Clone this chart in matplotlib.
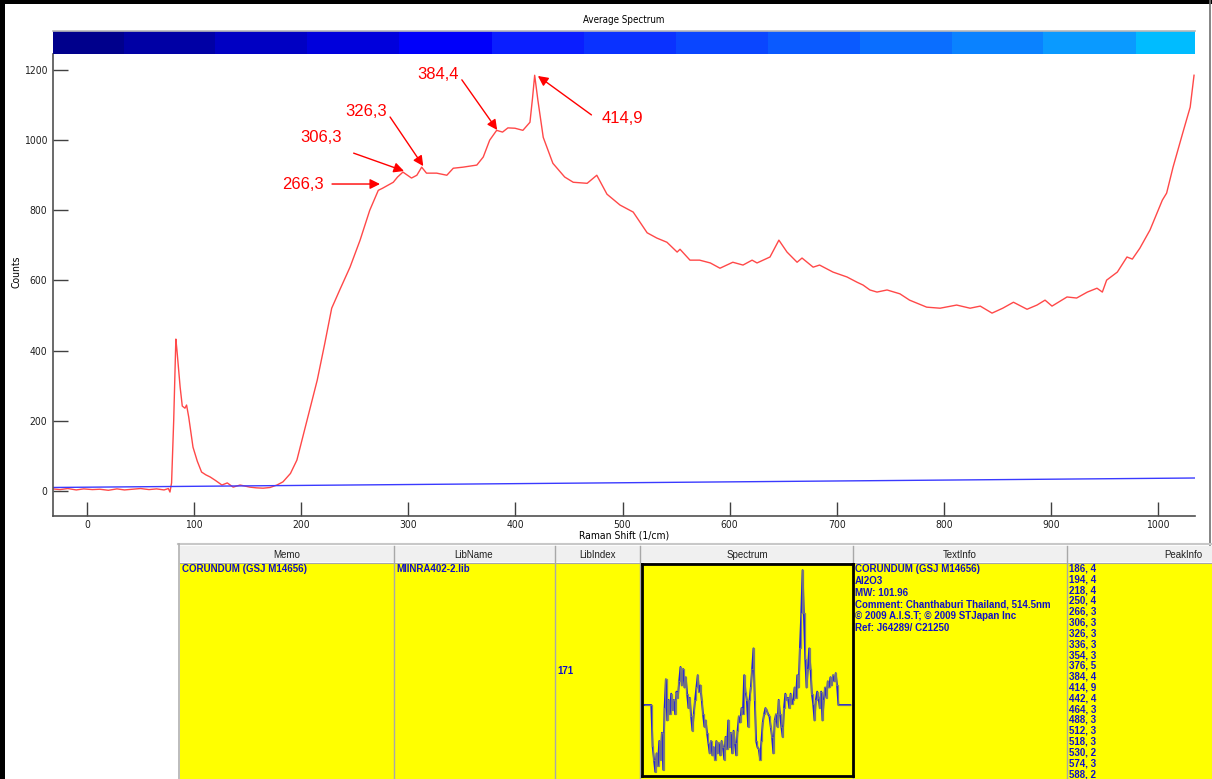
import matplotlib
matplotlib.use("Agg")
import matplotlib.pyplot as plt
from matplotlib.patches import Rectangle

# ---------------- data ----------------
spec_x = [-32, -25, -18, -10, -3, 5, 12, 20, 28, 35, 43, 50, 58, 65, 72, 76, 77.5, 79, 81, 83,
          84, 87, 89, 91.5, 93, 95, 99, 103, 107, 111, 115, 120, 126, 131, 136.5, 143, 152, 158,
          164.5, 171, 177.4, 183, 190, 196, 205.5, 215, 222, 228.5, 236, 245.6, 255, 264, 272,
          276, 286, 290, 295, 303, 308, 312.5, 317, 326.5, 336, 342, 351, 364, 370, 376, 382.5,
          388, 393, 399.6, 407, 413.6, 416, 418, 421, 426, 435, 446, 454, 467, 476, 485.5, 497.7,
          510, 523, 532, 541.5, 551, 553.7, 563, 572, 582, 591, 603, 612.5, 621, 625.6, 637.7,
          646, 653.6, 663, 667.6, 678, 684, 696.5, 709.6, 719, 724.6, 731, 737.6, 747, 759, 768,
          784, 796.5, 812, 824.5, 834, 845, 855, 865, 877.7, 887, 894.5, 901, 915, 924, 934, 943,
          948, 952, 962, 971, 976, 983, 992.5, 1004, 1008, 1014, 1023, 1030, 1033.6]
spec_y = [6, 4, 7, 3, 6, 4, 5, 2, 6, 3, 5, 7, 4, 6, 3, 7, -3, 23, 202, 433,
          402, 296, 242, 236, 245, 211, 125, 85, 54, 46, 40, 30, 17, 23, 11, 17, 11, 9,
          8, 10, 17, 26, 50, 88, 202, 316, 420, 521, 573, 638, 715, 800, 857,
          863, 880, 895, 909, 892, 900, 923, 906, 906, 900, 920, 923, 929, 952, 1000, 1028,
          1023, 1035, 1034, 1028, 1051, 1120, 1185, 1114, 1008, 934, 895, 880, 877, 900, 846, 815,
          795, 736, 721, 709, 681, 689, 658, 658, 650, 635, 652, 644, 658, 650, 667,
          715, 681, 652, 664, 638, 644, 624, 610, 595, 587, 573, 567, 573, 562, 544,
          524, 521, 530, 521, 527, 507, 521, 538, 518, 530, 544, 527, 553, 550, 567, 578,
          567, 601, 624, 667, 661, 692, 744, 829, 849, 923, 1020, 1094, 1185]

base_x = [-32, 1034]
base_y = [10, 37]

x_ticks = [0, 100, 200, 300, 400, 500, 600, 700, 800, 900, 1000]
y_ticks = [0, 200, 400, 600, 800, 1000, 1200]

peak_labels = ["266,3", "306,3", "326,3", "384,4", "414,9"]
peak_tip_x = [273.6, 296, 314, 383, 421]
peak_tip_y = [875, 912, 926, 1029, 1183]
label_x = [201.7, 219, 261, 328, 499.5]
label_y = [875, 1009, 1081, 1186, 1063]
tail_x = [228.8, 249, 283, 350, 471]
tail_y = [875, 963, 1066, 1172, 1072]

cbar_colors = ["#00008c", "#0000a5", "#0000c3", "#0000dc", "#0000fa", "#0a1eff", "#0a32ff",
               "#0a46ff", "#0a5aff", "#0a6eff", "#0a82ff", "#0a9aff", "#00bcff"]

table_headers = ["Memo", "LibName", "LibIndex", "Spectrum", "TextInfo", "PeakInfo"]
memo_text = "CORUNDUM (GSJ M14656)"
libname_text = "MIINRA402-2.lib"
libindex_text = "171"
textinfo_lines = ["CORUNDUM (GSJ M14656)", "Al2O3", "MW: 101.96",
                  "Comment: Chanthaburi Thailand, 514.5nm",
                  "\u00a9 2009 A.I.S.T; \u00a9 2009 STJapan Inc", "Ref: J64289/ C21250"]
peakinfo_lines = ["186, 4", "194, 4", "218, 4", "250, 4", "266, 3", "306, 3", "326, 3", "336, 3",
                  "354, 3", "376, 5", "384, 4", "414, 9", "442, 4", "464, 3", "488, 3", "512, 3",
                  "518, 3", "530, 2", "574, 3", "588, 2"]

inset_vals = ([0.335] * 6 +
              [0.134, 0.07, 0.01, 0.10, 0.04, 0.16, 0.07, 0.20, 0.02, 0.32, 0.46, 0.26, 0.36, 0.29,
               0.39, 0.31, 0.36, 0.29, 0.40, 0.37, 0.45, 0.52, 0.43, 0.51, 0.42, 0.47, 0.39, 0.32,
               0.37, 0.28, 0.21, 0.29, 0.36, 0.42, 0.48, 0.40, 0.43, 0.36, 0.29, 0.23, 0.26, 0.20,
               0.15, 0.10, 0.16, 0.09, 0.13, 0.07, 0.16, 0.10, 0.15, 0.09, 0.16, 0.13, 0.07, 0.18,
               0.12, 0.26, 0.13, 0.20, 0.10, 0.21, 0.15, 0.09, 0.21, 0.28, 0.25, 0.32, 0.29, 0.48,
               0.40, 0.36, 0.23, 0.36, 0.42, 0.51, 0.61, 0.36, 0.16, 0.13, 0.12, 0.07, 0.16, 0.25,
               0.29, 0.32, 0.31, 0.29, 0.28, 0.23, 0.18, 0.10, 0.26, 0.29, 0.23, 0.36, 0.29, 0.23,
               0.18, 0.32, 0.39, 0.36, 0.37, 0.32, 0.39, 0.34, 0.36, 0.42, 0.37, 0.48, 0.42, 0.61,
               0.78, 0.99, 0.78, 0.56, 0.42, 0.51, 0.61, 0.51, 0.39, 0.34, 0.26, 0.36, 0.40, 0.37,
               0.32, 0.40, 0.26, 0.36, 0.42, 0.37, 0.45, 0.42, 0.47, 0.43, 0.48, 0.45, 0.49, 0.43] +
              [0.335] * 10)

# ---------------- layout helpers (pixels) ----------------
W, H = 1212, 779
SANS = ["Liberation Sans", "DejaVu Sans"]
plt.rcParams["font.family"] = ["DejaVu Sans"]
plt.rcParams["font.stretch"] = "condensed"


def fx(px):
    return px / W


def fy(py):
    return 1 - py / H


fig = plt.figure(figsize=(W / 100, H / 100), dpi=100)
fig.patch.set_facecolor("white")

# overlay axes in pixel coordinates for frame and table
ov = fig.add_axes([0, 0, 1, 1])
ov.set_xlim(0, W)
ov.set_ylim(H, 0)
ov.axis("off")
ov.patch.set_alpha(0)

# window frame
ov.add_patch(Rectangle((0, 0), 5, H, facecolor="black", edgecolor="none"))
ov.add_patch(Rectangle((0, 0), W, 3.5, facecolor="black", edgecolor="none"))
ov.plot([W - 2, W - 2], [0, 545], color="#707070", lw=1.2)

# ---------------- table ----------------
col_bounds = [180, 394, 555, 640, 853, 1067, 1300]
ov.plot([178, W], [544, 544], color="#c8c8c8", lw=1.5)
ov.plot([179, 179], [544, H], color="#b0b0b0", lw=1.2)
ov.add_patch(Rectangle((180, 546), W - 180, 16, facecolor="#f0f0f0", edgecolor="none"))
ov.add_patch(Rectangle((180, 563), W - 180, H - 563, facecolor="#ffff00", edgecolor="none"))
ov.plot([180, W], [562.5, 562.5], color="#a8a8a8", lw=0.8)
for b in col_bounds[1:-1]:
    ov.plot([b, b], [546, H], color="#a8a8a8", lw=1.0)
header_centers = [287, 474, 597, 747, 960, 1183]
for hx, hname in zip(header_centers, table_headers):
    ov.text(hx, 555, hname, ha="center", va="center", fontsize=7, color="#202020",
            family=SANS, fontstretch="normal")

tcol = "#1010c8"
tkw = dict(fontsize=7, color=tcol, fontweight="bold", family=SANS, ha="left", va="center",
           fontstretch="normal")
ov.text(182, 569, memo_text, **tkw)
ov.text(396, 569, libname_text, **tkw)
ov.text(557, 671, libindex_text, **tkw)
for i, line in enumerate(textinfo_lines):
    ov.text(855, 569 + 11.75 * i, line, **tkw)
for i, line in enumerate(peakinfo_lines):
    ov.text(1069, 568.5 + 10.82 * i, line, **tkw)

# ---------------- main spectrum axes ----------------
ax = fig.add_axes([fx(53), fy(516), (1195 - 53) / W, (516 - 54) / H])
ax.plot(spec_x, spec_y, color="#ff4848", lw=1.0)
ax.plot(base_x, base_y, color="#3a3aff", lw=1.0)
ax.set_xlim(-31.7, 1034.5)
ax.set_ylim(-71.3, 1245.6)
ax.set_xticks(x_ticks)
ax.set_yticks(y_ticks)
for s in ["top", "right"]:
    ax.spines[s].set_visible(False)
for s in ["left", "bottom"]:
    ax.spines[s].set_color("#505050")
    ax.spines[s].set_linewidth(1.2)
ax.tick_params(axis="x", direction="in", length=10, width=1, color="#404040",
               labelsize=7.5, pad=3, labelcolor="#202020")
ax.tick_params(axis="y", direction="in", length=11, width=1, color="#404040",
               labelsize=7.5, pad=4, labelcolor="#202020")

for lab, lx, ly, tx, ty, px, py in zip(peak_labels, label_x, label_y, tail_x, tail_y,
                                        peak_tip_x, peak_tip_y):
    ax.text(lx, ly, lab, color="red", fontsize=12, ha="center", va="center", family=SANS,
            fontstretch="normal")
    ax.annotate("", xy=(px, py), xytext=(tx, ty),
                arrowprops=dict(arrowstyle="-|>", color="red", lw=1.0, mutation_scale=15,
                                shrinkA=0, shrinkB=0))

fig.text(fx(624), fy(536), "Raman Shift (1/cm)", ha="center", va="center", fontsize=7.5)
fig.text(fx(17), fy(272), "Counts", ha="center", va="center", rotation=90, fontsize=7.5)

# ---------------- colour bar ----------------
cb_bounds = [53, 124, 215, 307, 399, 491.5, 583.5, 675.5, 767.5, 859.5, 951.5, 1043, 1136, 1195]
cax = fig.add_axes([fx(53), fy(54), (1195 - 53) / W, 23 / H])
cax.set_xlim(53, 1195)
cax.set_ylim(0, 1)
for c, b0, b1 in zip(cbar_colors, cb_bounds[:-1], cb_bounds[1:]):
    cax.axvspan(b0, b1, color=c, lw=0)
cax.set_xticks([])
cax.set_yticks([])
for s in cax.spines.values():
    s.set_visible(False)
cax.spines["top"].set_visible(True)
cax.spines["top"].set_color("#b8b8b8")
cax.spines["top"].set_linewidth(1.2)
fig.text(fx(624), fy(20), "Average Spectrum", ha="center", va="center", fontsize=7)

# ---------------- inset spectrum in table ----------------
iax = fig.add_axes([fx(642), fy(776), 211 / W, 212 / H])
iax.set_facecolor("#ffff00")
n = len(inset_vals)
idx = list(range(n))
iax.plot(idx, inset_vals, color="#1a1ae6", lw=1.3)
iax.plot(idx, inset_vals, color="#7a7a7a", lw=0.9, drawstyle="steps-mid", alpha=0.9)
iax.set_xlim(-2, n + 1)
iax.set_ylim(-0.01, 1.02)
iax.set_xticks([])
iax.set_yticks([])
for s in iax.spines.values():
    s.set_color("black")
    s.set_linewidth(2)

fig.savefig("out.png", dpi=100, facecolor="white")
